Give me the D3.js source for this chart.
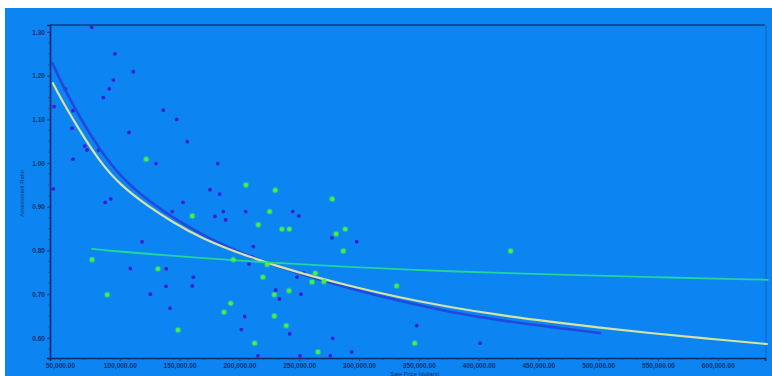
<!DOCTYPE html>
<html><head><meta charset="utf-8">
<script src="https://cdn.jsdelivr.net/npm/d3@7"></script>
<style>
html,body{margin:0;padding:0;background:#ffffff;}
svg{display:block;}
text{font-family:"Liberation Sans",Arial,sans-serif;}
</style></head>
<body>
<svg id="chart" width="772" height="376"></svg>
<script>
// ---- data ----
const xTicks = [50000,100000,150000,200000,250000,300000,350000,400000,450000,500000,550000,600000];
const yTicks = [0.60,0.70,0.80,0.90,1.00,1.10,1.20,1.30];

const purpleX = [76500,96000,111300,94600,91200,86200,54400,45000,60900,136400,147600,60000,107700,70700,72600,82200,156400,60900,130300,181900,44400,87800,92500,175400,183500,152800,143900,186500,179600,188500,205300,244600,249700,277400,298100,118600,211600,210300,208000,108800,138900,161500,254000,248200,138600,160600,125500,230300,233500,251500,142000,204400,201600,242100,278000,348200,293900,401200,215500,250700,276000];
const purpleY = [1.311,1.250,1.209,1.190,1.170,1.150,1.170,1.129,1.120,1.121,1.100,1.080,1.070,1.039,1.030,1.030,1.049,1.009,0.999,0.999,0.941,0.910,0.918,0.939,0.929,0.910,0.889,0.889,0.878,0.870,0.889,0.889,0.879,0.829,0.820,0.820,0.809,0.786,0.769,0.759,0.758,0.739,0.748,0.739,0.718,0.719,0.700,0.709,0.689,0.700,0.668,0.649,0.619,0.609,0.599,0.628,0.568,0.588,0.559,0.559,0.559];

const greenX = [122100,205500,230000,277600,160600,225300,215800,235600,241700,288500,280900,286900,76800,194900,223300,131900,219700,263500,260700,270700,89500,241500,229200,331500,426800,192700,187100,229200,239200,148700,212800,265700,346600];
const greenY = [1.009,0.950,0.938,0.918,0.879,0.889,0.859,0.849,0.849,0.849,0.838,0.799,0.779,0.779,0.768,0.758,0.739,0.748,0.728,0.729,0.699,0.708,0.699,0.719,0.799,0.679,0.659,0.650,0.628,0.618,0.588,0.568,0.588];

// trend curves
const blueCurveX = [43700,50000,66700,83400,100200,125200,167100,208900,250700,290800,334300,376100,417900,459700,501500];
const blueCurveY = [1.229,1.190,1.103,1.030,0.970,0.909,0.836,0.785,0.746,0.714,0.684,0.659,0.640,0.625,0.611];

const yellowCurveX = [44100,50000,66700,83400,100200,125200,143600,167100,208900,250700,290800,334300,376100,417900,459700,501500,543300,585100,641100];
const yellowCurveY = [1.183,1.151,1.073,1.003,0.950,0.898,0.866,0.829,0.784,0.748,0.720,0.692,0.670,0.652,0.637,0.623,0.611,0.600,0.586];

const greenCurveX = [76800,83400,125200,167100,208900,290800,376100,459700,543300,642000];
const greenCurveY = [0.804,0.801,0.792,0.783,0.775,0.762,0.752,0.745,0.739,0.733];

const yTitle = "Assessment Ratio";
const xTitle = "Sale Price (dollars)";

// ---- layout ----
const W = 772, H = 376;
const plot = {left:50, right:765, top:25, bottom:358};
const svg = d3.select("#chart");

svg.append("rect").attr("x",5).attr("y",8).attr("width",W-5).attr("height",H-8).attr("fill","#0c84f2");

const x = d3.scaleLinear().domain([41640, 639450]).range([plot.left, plot.right]);
const y = d3.scaleLinear().domain([0.554, 1.316]).range([plot.bottom, plot.top]);

// frame
svg.append("line").attr("x1",plot.left).attr("x2",plot.right).attr("y1",plot.top).attr("y2",plot.top)
  .attr("stroke","#0b3a8a").attr("stroke-width",1.5);
svg.append("line").attr("x1",plot.right+1).attr("x2",plot.right+1).attr("y1",plot.top).attr("y2",plot.bottom)
  .attr("stroke","#0a6fd0").attr("stroke-width",1.5);

// minor ticks
const xMinor = d3.range(45000, 640000, 12500);
svg.append("g").selectAll("line").data(xMinor).join("line")
  .attr("x1",d=>x(d)).attr("x2",d=>x(d)).attr("y1",plot.bottom).attr("y2",plot.bottom+2)
  .attr("stroke","#2a4f9a").attr("stroke-width",0.8);
const yMinor = d3.range(0.575, 1.316, 0.025);
svg.append("g").selectAll("line").data(yMinor).join("line")
  .attr("x1",plot.left-2).attr("x2",plot.left).attr("y1",d=>y(d)).attr("y2",d=>y(d))
  .attr("stroke","#2a4f9a").attr("stroke-width",0.8);

// axes
const fmtX = d3.format(",.2f");
const xAxis = d3.axisBottom(x).tickValues(xTicks).tickSize(3).tickPadding(2).tickFormat(fmtX);
const gx = svg.append("g").attr("transform",`translate(0,${plot.bottom})`).call(xAxis);
const yAxis = d3.axisLeft(y).tickValues(yTicks).tickSize(3).tickPadding(2).tickFormat(d3.format(".2f"));
const gy = svg.append("g").attr("transform",`translate(${plot.left},0)`).call(yAxis);
[gx,gy].forEach(g=>{
  g.select(".domain").attr("stroke","#0d2a6e").attr("stroke-width",1.6);
  g.selectAll(".tick line").attr("stroke","#1d3c80").attr("stroke-width",1);
  g.selectAll(".tick text").attr("fill","#15306e").attr("font-size","6.6px").attr("font-weight","bold")
    .attr("font-family","Liberation Sans, Arial, sans-serif");
});

// axis titles
svg.append("text").attr("transform",`translate(24,${(plot.top+plot.bottom)/2+2}) rotate(-90)`)
  .attr("text-anchor","middle").attr("font-size","5.8px").attr("fill","#15306e").text(yTitle);
svg.append("text").attr("x",415).attr("y",376).attr("text-anchor","middle")
  .attr("font-size","5.8px").attr("fill","#15306e").text(xTitle);

// clip
svg.append("clipPath").attr("id","clip").append("rect")
  .attr("x",plot.left).attr("y",plot.top-6).attr("width",plot.right-plot.left+6).attr("height",plot.bottom-plot.top+6);
const g = svg.append("g").attr("clip-path","url(#clip)");

// points
const purple = purpleX.map((v,i)=>({x:v,y:purpleY[i]}));
const green = greenX.map((v,i)=>({x:v,y:greenY[i]}));

g.append("g").selectAll("circle").data(purple).join("circle")
  .attr("cx",d=>x(d.x)).attr("cy",d=>y(d.y)).attr("r",1.9).attr("fill","#3b1fd4");

// curves
const line = d3.line().x(d=>x(d[0])).y(d=>y(d[1])).curve(d3.curveBasis);
const zip = (a,b)=>a.map((v,i)=>[v,b[i]]);
g.append("path").attr("d",line(zip(blueCurveX,blueCurveY))).attr("fill","none")
  .attr("stroke","#1f4ae0").attr("stroke-width",2.6).attr("stroke-linecap","round");
g.append("path").attr("d",line(zip(yellowCurveX,yellowCurveY))).attr("fill","none")
  .attr("stroke","#d6e3a2").attr("stroke-width",2.2).attr("stroke-linecap","round");
g.append("path").attr("d",line(zip(greenCurveX,greenCurveY))).attr("fill","none")
  .attr("stroke","#20d69a").attr("stroke-width",1.8).attr("stroke-linecap","round");

// green points
g.append("g").selectAll("circle").data(green).join("circle")
  .attr("cx",d=>x(d.x)).attr("cy",d=>y(d.y)).attr("r",3.2).attr("fill","#3cf05a").attr("opacity",0.35);
g.append("g").selectAll("circle").data(green).join("circle")
  .attr("cx",d=>x(d.x)).attr("cy",d=>y(d.y)).attr("r",2.2).attr("fill","#45f23e");
</script>
</body></html>
